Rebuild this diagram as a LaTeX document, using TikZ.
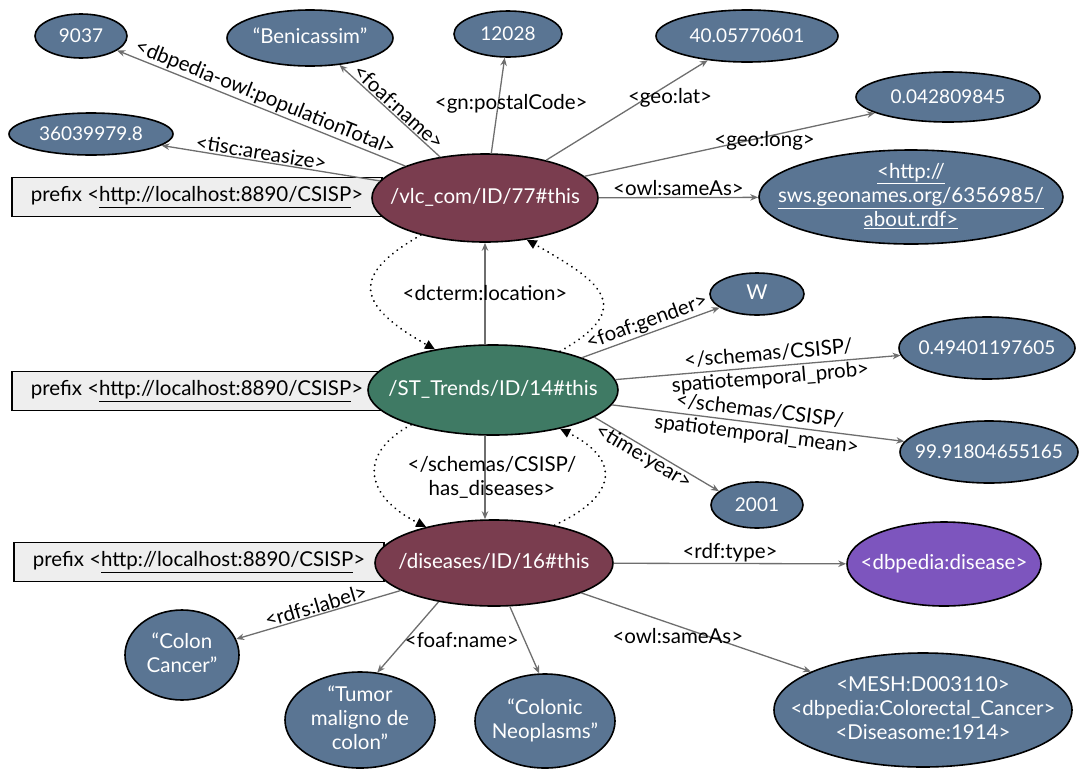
\documentclass[tikz,border=0pt]{standalone}
\usepackage{fontspec}
\setmainfont{Lato}
\usetikzlibrary{shapes.geometric,arrows.meta}
\definecolor{leaf}{HTML}{5A7593}
\definecolor{maroon}{HTML}{7A3D4F}
\definecolor{stgreen}{HTML}{3F7A64}
\definecolor{purp}{HTML}{7D55BE}
\definecolor{edgec}{HTML}{6E6E6E}
\definecolor{pbox}{HTML}{EEEEEE}
\newcommand{\ctext}[1]{\makebox[0pt]{\raisebox{-6pt}[0pt][0pt]{\begin{tabular}{@{}c@{}}#1\end{tabular}}}}
\begin{document}
\begin{tikzpicture}[x=1pt,y=1pt,
  every node/.style={font=\fontsize{20.5}{24}\selectfont},
  numf/.style={font=\fontsize{19}{22}\selectfont},
  ell/.style={ellipse, draw=black, line width=1.6pt, text=white, inner sep=0pt},
  leafn/.style={ell, fill=leaf},
  mainn/.style={ell, fill=maroon},
  edge/.style={draw=edgec, line width=1.3pt, -{Stealth[length=8pt,width=6.5pt]}},
  lbl/.style={inner sep=1pt, text=black, align=center},
  loopc/.style={line width=2pt, line cap=round, dash pattern=on 0.1pt off 5.5pt, -{Triangle[length=10pt,width=9pt]}},
  prefixbox/.style={draw=black, line width=1.5pt, fill=pbox, minimum height=39pt, minimum width=370pt, inner sep=0pt}
]
\useasboundingbox (0,0) rectangle (1087,-769);
\coordinate (cx) at (485,0);

% prefix boxes
\node[prefixbox] (p1) at (197,-197) {prefix <\underline{http://localhost:8890/CSISP}>};
\node[prefixbox] (p2) at (197,-391) {prefix <\underline{http://localhost:8890/CSISP}>};
\node[prefixbox] (p3) at (199,-562) {prefix <\underline{http://localhost:8890/CSISP}>};

% main nodes
\node[mainn, minimum width=226pt, minimum height=88pt] (vlc) at (485,-198) {\ctext{/vlc\_com/ID/77\#this}};
\node[ell, fill=stgreen, minimum width=250pt, minimum height=90pt] (st) at (493,-390) {\ctext{/ST\_Trends/ID/14\#this}};
\node[mainn, minimum width=238pt, minimum height=86pt] (dis) at (494,-563) {\ctext{/diseases/ID/16\#this}};

% leaves of vlc
\node[leafn, numf, minimum width=92pt, minimum height=44pt] (n9037) at (81,-36) {\ctext{9037}};
\node[leafn, minimum width=166pt, minimum height=56pt] (beni) at (310,-38) {\ctext{“Benicassim”}};
\node[leafn, numf, minimum width=108pt, minimum height=46pt] (n12028) at (508,-34) {\ctext{12028}};
\node[leafn, numf, minimum width=182pt, minimum height=52pt] (lat) at (747,-36) {\ctext{40.05770601}};
\node[leafn, numf, minimum width=164pt, minimum height=42pt] (area) at (91,-134) {\ctext{36039979.8}};
\node[leafn, numf, minimum width=184pt, minimum height=50pt] (long) at (948,-97) {\ctext{0.042809845}};
\node[leafn, minimum width=304pt, minimum height=94pt] (url) at (911,-197) {\ctext{\underline{<http://}\\\underline{sws.geonames.org/6356985/}\\\underline{about.rdf>}}};

% leaves of st
\node[leafn, minimum width=94pt, minimum height=42pt] (w) at (757,-294) {\ctext{W}};
\node[leafn, numf, minimum width=176pt, minimum height=62pt] (prob) at (987,-348) {\ctext{0.49401197605}};
\node[leafn, numf, minimum width=178pt, minimum height=62pt] (mean) at (989,-452) {\ctext{99.91804655165}};
\node[leafn, numf, minimum width=92pt, minimum height=46pt] (y2001) at (757,-505) {\ctext{2001}};

% leaves of dis
\node[ell, fill=purp, minimum width=194pt, minimum height=84pt] (dtype) at (944,-564) {\ctext{<dbpedia:disease>}};
\node[leafn, minimum width=298pt, minimum height=114pt] (mesh) at (923,-710) {\ctext{<MESH:D003110>\\<dbpedia:Colorectal\_Cancer>\\<Diseasome:1914>}};
\node[leafn, minimum width=114pt, minimum height=90pt] (colon) at (182,-655) {\ctext{“Colon\\Cancer”}};
\node[leafn, minimum width=150pt, minimum height=96pt] (tumor) at (360,-720) {\ctext{“Tumor\\maligno de\\colon”}};
\node[leafn, minimum width=140pt, minimum height=94pt] (colonic) at (545,-721) {\ctext{“Colonic\\Neoplasms”}};

% edges from vlc
\draw[edge] (vlc) -- (n9037) node[lbl, midway, sloped, above] {<dbpedia-owl:populationTotal>};
\draw[edge] (vlc) -- (beni) node[lbl, pos=0.47, sloped, above] {<foaf:name>};
\draw[edge] (vlc) -- (n12028) node[lbl, pos=0.52, xshift=13pt] {<gn:postalCode>};
\draw[edge] (vlc) -- (lat) node[lbl, pos=0.62, anchor=west, xshift=-20pt] {<geo:lat>};
\draw[edge] (vlc) -- (long) node[lbl, pos=0.62, yshift=-4pt] {<geo:long>};
\draw[edge] (vlc) -- (url) node[lbl, midway, above] {<owl:sameAs>};
\draw[edge] (vlc) -- (area) node[lbl, pos=0.55, sloped, above] {<tisc:areasize>};

% edges from st
\draw[edge] (st.north -| cx) -- (vlc.south -| cx) node[lbl, midway] {<dcterm:location>};
\draw[edge] (st) -- (w) node[lbl, midway, sloped, above] {<foaf:gender>};
\draw[edge] (st) -- (prob) node[lbl, pos=0.54, sloped] {</schemas/CSISP/\\spatiotemporal\_prob>};
\draw[edge] (st) -- (mean) node[lbl, pos=0.5, sloped] {</schemas/CSISP/\\spatiotemporal\_mean>};
\draw[edge] (st.-15) -- (y2001.160) node[lbl, pos=0.43, sloped, below=-2pt] {<time:year>};
\draw[edge] (st.south -| cx) -- (dis.north -| cx) node[lbl, midway, xshift=7pt] {</schemas/CSISP/\\has\_diseases>};

% dotted loops
\draw[loopc] (vlc.210) .. controls +(-70,-40) and +(-80,45) .. (st.145);
\draw[loopc] (st.30) .. controls +(80,45) and +(70,-40) .. (vlc.-45);
\draw[loopc] (st.203) .. controls +(-55,-30) and +(-60,30) .. (dis.152);
\draw[loopc] (dis.32) .. controls +(65,30) and +(60,-30) .. (st.-30);

% edges from dis
\draw[edge] (dis) -- (colon) node[lbl, midway, sloped, above] {<rdfs:label>};
\draw[edge] (dis.215) -- (tumor.70);
\draw[edge] (dis.-70) -- (colonic.97) node[lbl, pos=0.5, anchor=east, xshift=-4pt] {<foaf:name>};
\draw[edge] (dis) -- (dtype) node[lbl, midway, above] {<rdf:type>};
\draw[edge] (dis) -- (mesh) node[lbl, pos=0.42, below=1pt] {<owl:sameAs>};
\end{tikzpicture}
\end{document}
